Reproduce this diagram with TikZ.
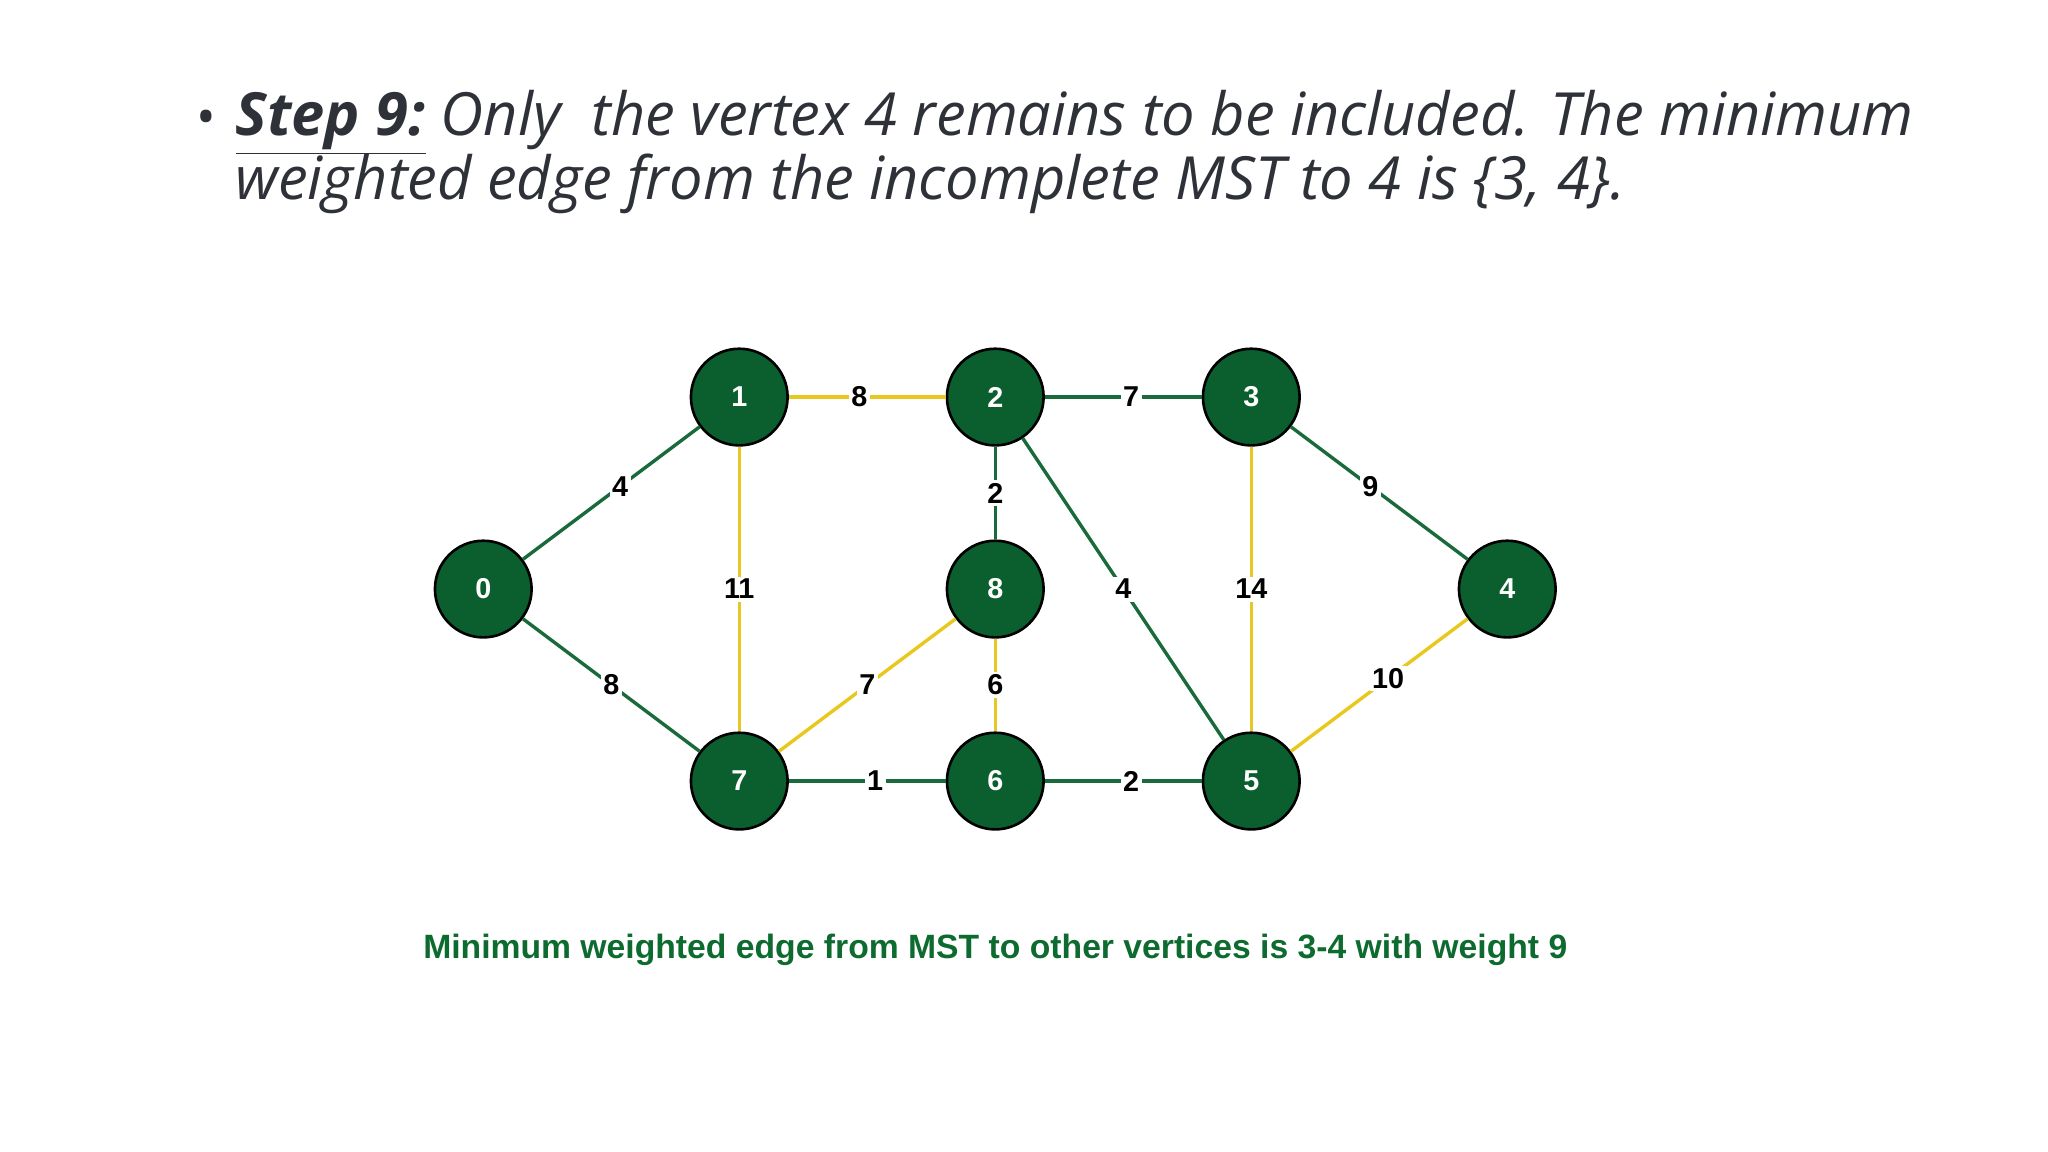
\documentclass[tikz,border=0pt]{standalone}
\usepackage{fontspec}
\setmainfont{Open Sans}
\newfontfamily\arial{Liberation Sans}
\definecolor{ngreen}{HTML}{0B5E2E}
\definecolor{egreen}{HTML}{1A6B3C}
\definecolor{eyel}{HTML}{E8C81E}
\definecolor{tgray}{HTML}{2E3238}
\definecolor{capgreen}{HTML}{0E6B30}
\begin{document}
\begin{tikzpicture}[x=0.5pt,y=-0.5pt,
  vert/.style={circle,draw=black,line width=1pt,fill=ngreen,minimum size=37pt,inner sep=0pt,text=white,font=\arial\bfseries\fontsize{11}{11}\selectfont},
  ge/.style={draw=egreen,line width=1.3pt},
  ye/.style={draw=eyel,line width=1.3pt},
  tl/.style={anchor=base west,text=tgray,font=\itshape\fontsize{22.8}{26}\selectfont,inner sep=0pt},
  wl/.style={fill=white,inner sep=1pt,text=black,font=\arial\bfseries\fontsize{11}{11}\selectfont}]
\useasboundingbox (0,0) rectangle (1568,882);
\node[anchor=base west,text=tgray,font=\fontsize{20}{24}\selectfont,inner sep=0pt] (bul) at (150,104) {•};
\node[tl] (t1) at (180,104) {\textbf{\underline{Step 9:}} Only\ \ the vertex 4 remains to be included. The minimum};
\node[tl] (t2) at (180,153) {weighted edge from the incomplete MST to 4 is \{3, 4\}.};
\node[vert] (n0) at (370,451) {0};
\node[vert] (n1) at (566,304) {1};
\node[vert] (n2) at (762,304) {2};
\node[vert] (n3) at (958,304) {3};
\node[vert] (n4) at (1154,451) {4};
\node[vert] (n8) at (762,451) {8};
\node[vert] (n7) at (566,598) {7};
\node[vert] (n6) at (762,598) {6};
\node[vert] (n5) at (958,598) {5};
\path[ge] (n0)--(n1) node[wl,pos=0.55]{4};
\path[ge] (n0)--(n7) node[wl,pos=0.5]{8};
\path[ye] (n1)--(n2) node[wl,pos=0.45]{8};
\path[ge] (n2)--(n3) node[wl,pos=0.55]{7};
\path[ge] (n2)--(n8) node[wl,pos=0.5]{2};
\path[ge] (n2)--(n5) node[wl,pos=0.5]{4};
\path[ye] (n1)--(n7) node[wl,pos=0.5]{11};
\path[ye] (n3)--(n5) node[wl,pos=0.5]{14};
\path[ge] (n3)--(n4) node[wl,pos=0.45]{9};
\path[ye] (n8)--(n7) node[wl,pos=0.5]{7};
\path[ye] (n8)--(n6) node[wl,pos=0.5]{6};
\path[ge] (n7)--(n6) node[wl,pos=0.55]{1};
\path[ge] (n6)--(n5) node[wl,pos=0.55]{2};
\path[ye] (n5)--(n4) node[wl,pos=0.55]{10};
\node[text=capgreen,font=\arial\bfseries\fontsize{12.9}{14}\selectfont] (cap) at (762,727) {Minimum weighted edge from MST to other vertices is 3-4 with weight 9};
\end{tikzpicture}
\end{document}
